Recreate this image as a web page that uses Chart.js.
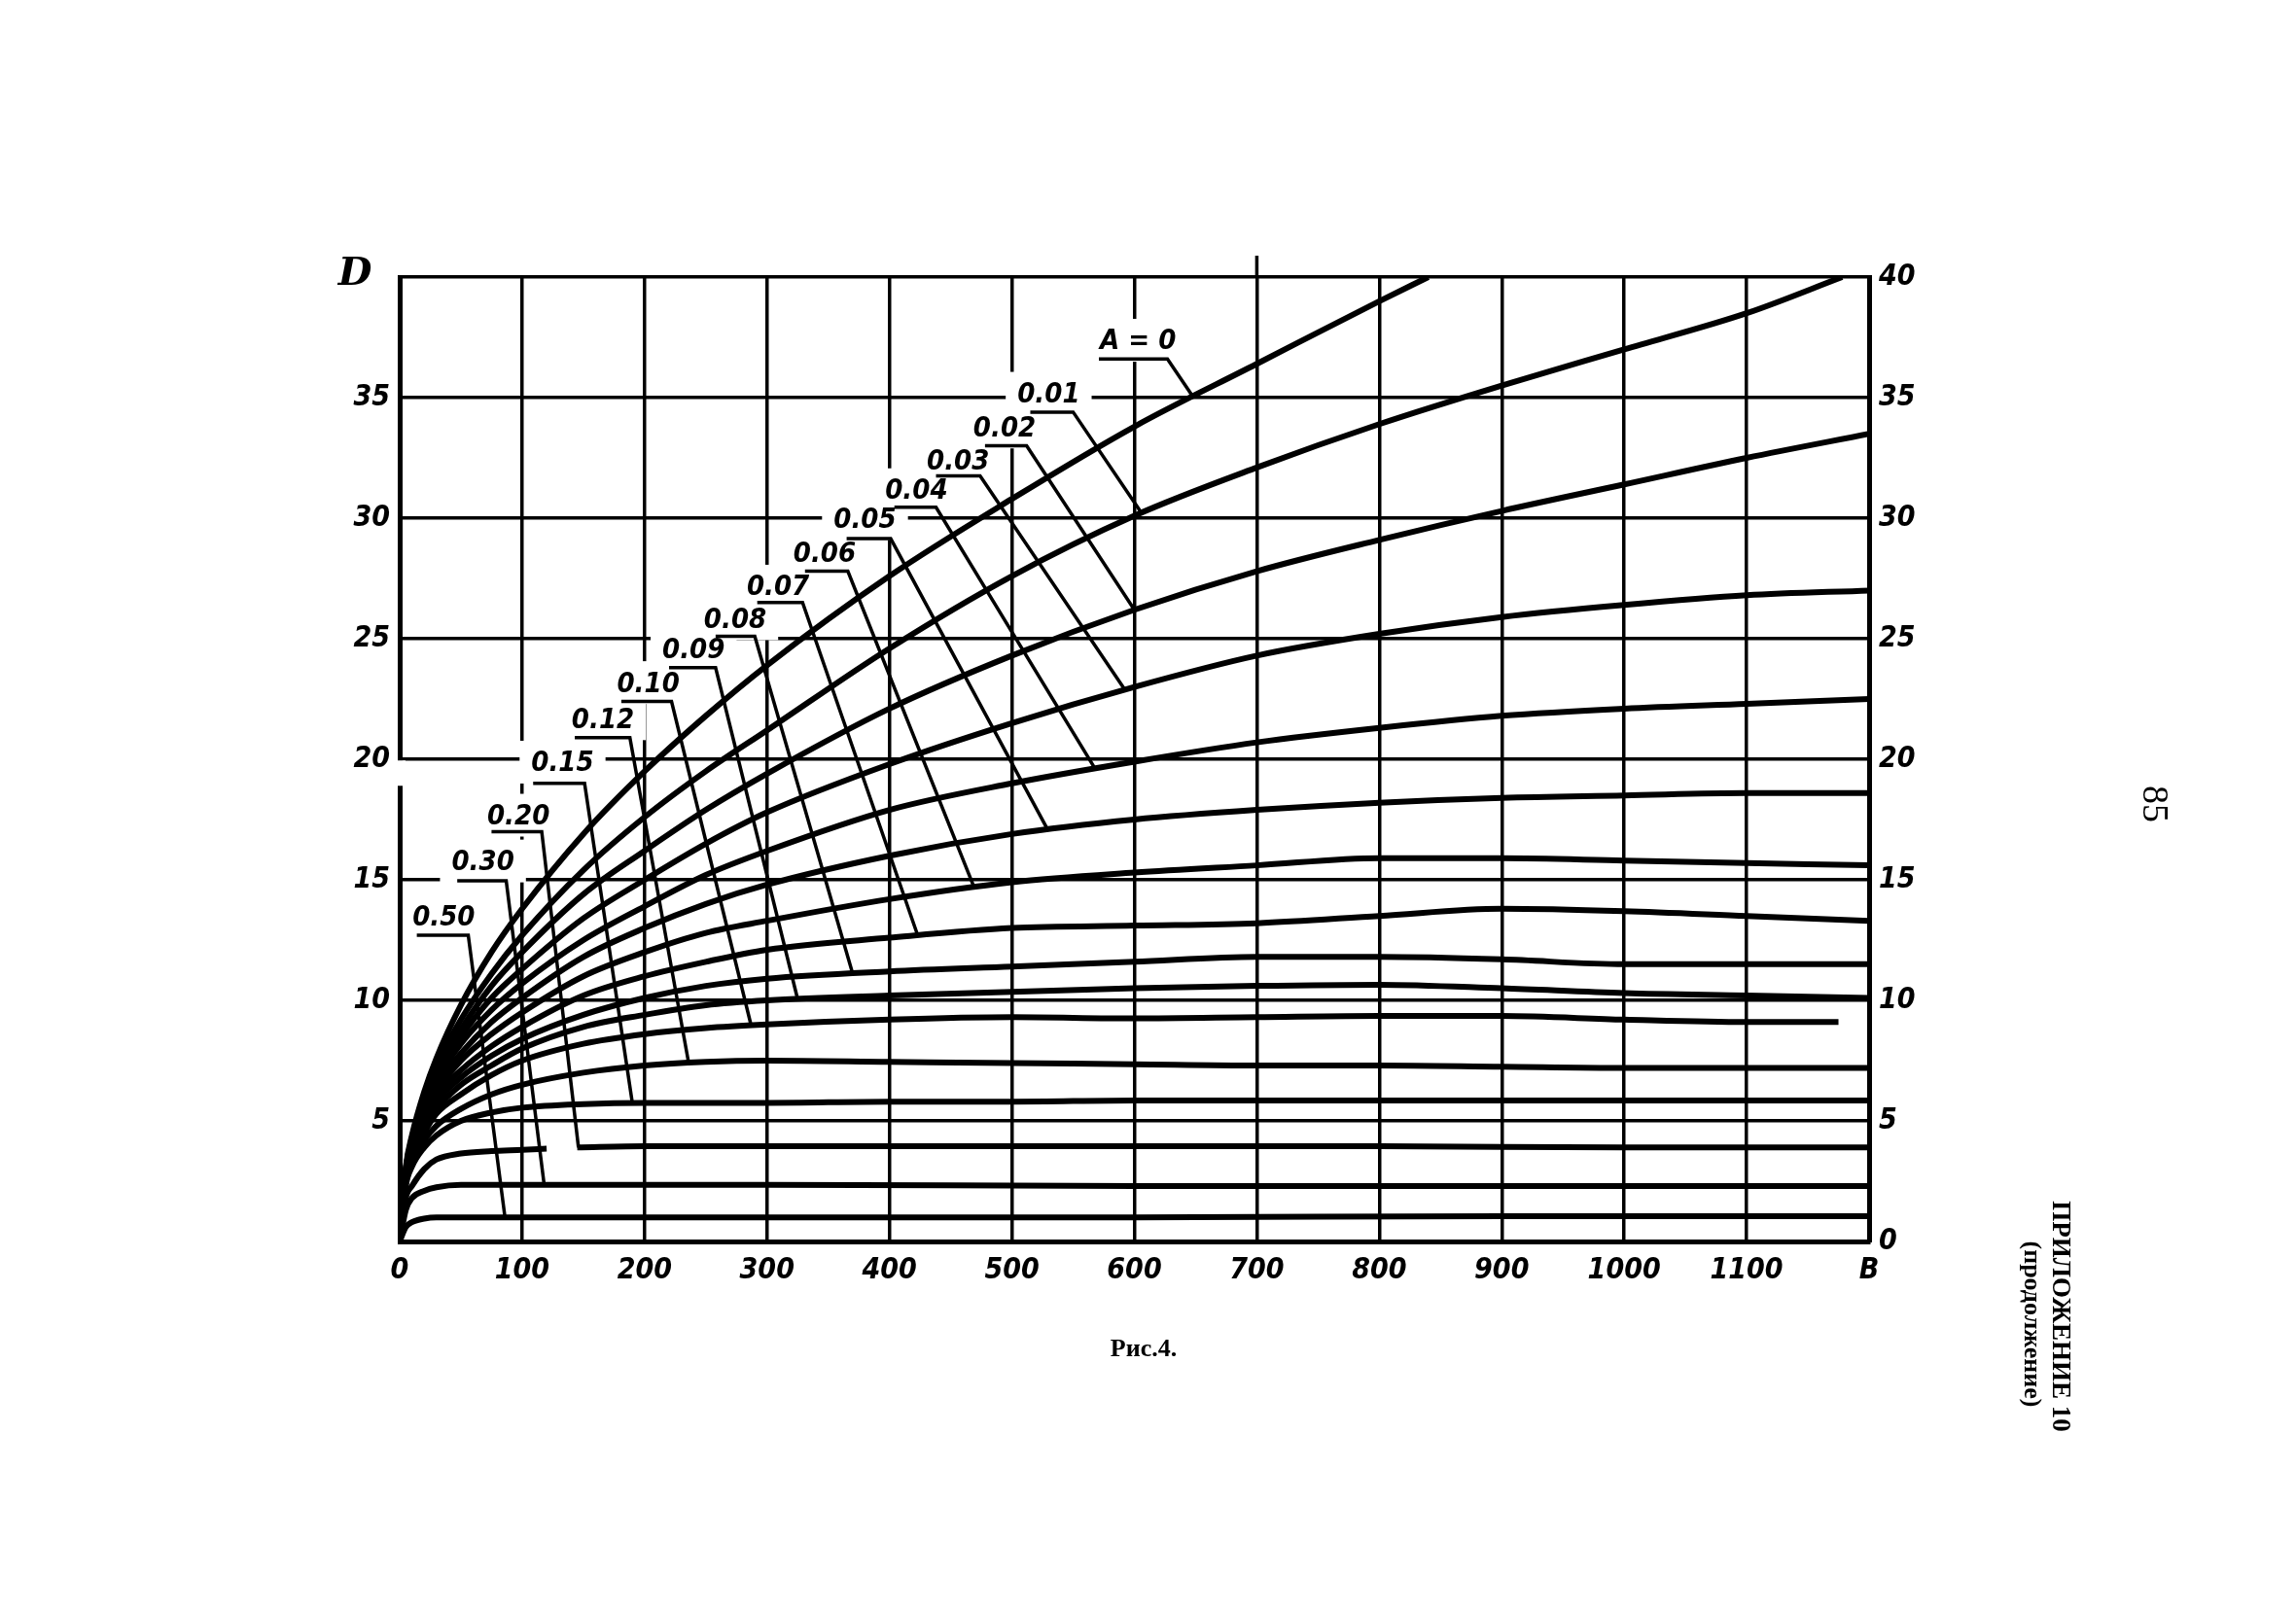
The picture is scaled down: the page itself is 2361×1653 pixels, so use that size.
<!DOCTYPE html>
<html>
<head>
<meta charset="utf-8">
<script src="https://cdn.jsdelivr.net/npm/chart.js@4.4.1/dist/chart.umd.min.js"></script>
<style>
  html, body { margin: 0; padding: 0; background: #fff; }
  #wrap { width: 2361px; height: 1653px; }
</style>
</head>
<body>
<div id="wrap"><canvas id="nomogram" width="2361" height="1653"></canvas></div>
<script>
// D against B, one curve for each value of A  (pairs are [B, D])
const curveA000 = [[0,0],[5,3.1],[10,4.4],[20,6.2],[30,7.6],[50,9.8],[75,12.0],[100,13.8],[150,16.9],[200,19.5],[250,21.8],[300,23.9],[400,27.6],[500,30.8],[600,33.8],[700,36.4],[800,39.0],[840,40]];
const curveA001 = [[0,0],[5,3.0],[10,4.3],[20,6.0],[30,7.3],[50,9.2],[75,11.1],[100,12.7],[150,15.4],[200,17.6],[250,19.5],[300,21.2],[400,24.6],[500,27.6],[600,30.1],[700,32.1],[800,33.9],[900,35.5],[1000,37.0],[1100,38.5],[1178,40]];
const curveA002 = [[0,0],[5,3.0],[10,4.2],[20,5.9],[30,7.1],[50,8.8],[75,10.6],[100,12.0],[150,14.4],[200,16.2],[250,17.9],[300,19.4],[400,22.1],[500,24.3],[600,26.2],[700,27.8],[800,29.1],[900,30.3],[1000,31.4],[1100,32.5],[1200,33.5]];
const curveA003 = [[0,0],[5,2.9],[10,4.1],[20,5.7],[30,6.9],[50,8.5],[75,10.1],[100,11.3],[150,13.4],[200,15.0],[250,16.5],[300,17.8],[400,19.8],[500,21.5],[600,23.0],[700,24.3],[800,25.2],[900,25.9],[1000,26.4],[1100,26.8],[1200,27.0]];
const curveA004 = [[0,0],[5,2.9],[10,4.0],[20,5.6],[30,6.7],[50,8.2],[75,9.6],[100,10.7],[150,12.5],[200,13.9],[250,15.2],[300,16.2],[400,17.9],[500,19.0],[600,19.9],[700,20.7],[800,21.3],[900,21.8],[1000,22.1],[1100,22.3],[1200,22.5]];
const curveA005 = [[0,0],[5,2.8],[10,3.9],[20,5.4],[30,6.5],[50,7.8],[75,9.1],[100,10.1],[150,11.8],[200,13.0],[250,14.0],[300,14.8],[400,16.0],[500,16.9],[600,17.5],[700,17.9],[800,18.2],[900,18.4],[1000,18.5],[1100,18.6],[1200,18.6]];
const curveA006 = [[0,0],[5,2.8],[10,3.8],[20,5.2],[30,6.2],[50,7.5],[75,8.6],[100,9.5],[150,11.0],[200,12.0],[250,12.8],[300,13.3],[400,14.2],[500,14.9],[600,15.3],[700,15.6],[800,15.9],[900,15.9],[1000,15.8],[1100,15.7],[1200,15.6]];
const curveA007 = [[0,0],[5,2.7],[10,3.7],[20,5.0],[30,6.0],[50,7.1],[75,8.1],[100,8.9],[150,10.2],[200,11.0],[250,11.6],[300,12.1],[400,12.6],[500,13.0],[600,13.1],[700,13.2],[800,13.5],[900,13.8],[1000,13.7],[1100,13.5],[1200,13.3]];
const curveA008 = [[0,0],[5,2.7],[10,3.6],[20,4.9],[30,5.8],[50,6.8],[75,7.7],[100,8.4],[150,9.4],[200,10.1],[250,10.6],[300,10.9],[400,11.2],[500,11.4],[600,11.6],[700,11.8],[800,11.8],[900,11.7],[1000,11.5],[1100,11.5],[1200,11.5]];
const curveA009 = [[0,0],[5,2.6],[10,3.5],[20,4.7],[30,5.5],[50,6.5],[75,7.3],[100,8.0],[150,8.9],[200,9.4],[250,9.8],[300,10.0],[400,10.2],[500,10.35],[600,10.5],[700,10.6],[800,10.65],[900,10.5],[1000,10.3],[1100,10.2],[1200,10.1]];
const curveA010 = [[0,0],[5,2.5],[10,3.4],[20,4.5],[30,5.3],[50,6.1],[75,6.9],[100,7.5],[150,8.2],[200,8.6],[250,8.85],[300,9.0],[400,9.2],[500,9.3],[600,9.25],[700,9.3],[800,9.35],[900,9.35],[1000,9.2],[1100,9.1],[1175,9.1]];
const curveA012 = [[0,0],[5,2.4],[10,3.2],[20,4.2],[30,4.8],[50,5.5],[75,6.1],[100,6.5],[150,7.0],[200,7.3],[250,7.45],[300,7.5],[400,7.45],[500,7.4],[600,7.35],[700,7.3],[800,7.3],[900,7.25],[1000,7.2],[1100,7.2],[1200,7.2]];
const curveA015 = [[0,0],[5,2.3],[10,3.1],[20,3.9],[30,4.4],[50,5.0],[75,5.35],[100,5.55],[150,5.7],[200,5.75],[300,5.75],[400,5.8],[500,5.8],[600,5.85],[800,5.85],[1000,5.85],[1200,5.85]];
const curveA020 = [[0,0],[5,1.8],[10,2.3],[20,3.0],[30,3.4],[50,3.65],[75,3.75],[100,3.8],[120,3.85],[132,null],[145,3.9],[200,3.95],[400,3.95],[600,3.95],[800,3.95],[1000,3.9],[1200,3.9]];
const curveA030 = [[0,0],[5,1.3],[10,1.8],[20,2.1],[30,2.25],[50,2.35],[100,2.35],[300,2.35],[600,2.3],[900,2.3],[1200,2.3]];
const curveA050 = [[0,0],[5,0.6],[10,0.8],[20,0.95],[30,1.0],[50,1.0],[300,1.0],[600,1.0],[900,1.05],[1200,1.05]];

// curve labels: text centre, underline and the leader down to the curve
const labelText = ['A = 0', '0.01', '0.02', '0.03', '0.04', '0.05', '0.06', '0.07', '0.08', '0.09', '0.10', '0.12', '0.15', '0.20', '0.30', '0.50'];
const labelB = [603, 530, 494, 456, 422, 380, 347, 309, 274, 240, 203, 166, 133, 97, 68, 36];
const labelD = [37.3, 35.1, 33.7, 32.3, 31.1, 29.9, 28.5, 27.1, 25.75, 24.5, 23.1, 21.6, 19.8, 17.6, 15.7, 13.4];
const underlineFromB = [571, 515, 478, 438, 404, 365, 331, 292, 258, 220, 181, 143, 109, 75, 47, 14];
const underlineToB = [627, 550, 512, 474, 438, 401, 366, 329, 290, 258, 222, 188, 151, 116, 87, 56];
const underlineD = [36.6, 34.4, 33.0, 31.75, 30.45, 29.15, 27.8, 26.5, 25.1, 23.8, 22.4, 20.9, 19.0, 17.0, 14.96, 12.7];
const leaderEndB = [647, 606, 600, 592, 568, 529, 469, 423, 370, 325, 287, 236, 190, 146, 118, 86];
const leaderEndD = [35.1, 30.2, 26.2, 22.9, 19.6, 17.1, 14.7, 12.7, 11.1, 10.05, 8.96, 7.4, 5.75, 3.9, 2.35, 1.0];

const xTickLabels = ['0', '100', '200', '300', '400', '500', '600', '700', '800', '900', '1000', '1100', 'B'];
const leftTickLabels = ['', '5', '10', '15', '20', '25', '30', '35', ''];
const rightTickLabels = ['0', '5', '10', '15', '20', '25', '30', '35', '40'];

const curves = [curveA000, curveA001, curveA002, curveA003, curveA004, curveA005, curveA006, curveA007,
  curveA008, curveA009, curveA010, curveA012, curveA015, curveA020, curveA030, curveA050];

const narrowFamily = "'Liberation Sans Narrow', 'DejaVu Sans Condensed', 'DejaVu Sans', sans-serif";
const tickFont = { family: narrowFamily, style: 'italic', weight: 'bold', size: 30 };
const labelFont = 'italic bold 29px ' + narrowFamily;

document.addEventListener('DOMContentLoaded', () => {
  const datasets = [];
  curves.forEach((c, i) => {
    datasets.push({
      label: labelText[i],
      data: c.map(([b, d]) => ({ x: b, y: d })),
      borderColor: '#000',
      borderWidth: 6,
      pointRadius: 0,
      cubicInterpolationMode: 'monotone',
      spanGaps: false,
      fill: false
    });
  });
  labelText.forEach((t, i) => {
    datasets.push({
      label: 'leader ' + t,
      data: [
        { x: underlineFromB[i], y: underlineD[i] },
        { x: underlineToB[i], y: underlineD[i] },
        { x: leaderEndB[i], y: leaderEndD[i] }
      ],
      borderColor: '#000',
      borderWidth: 3.5,
      pointRadius: 0,
      tension: 0,
      fill: false
    });
  });

  // labels sit on white patches that break the grid, as on the drawing
  const curveLabels = {
    id: 'curveLabels',
    beforeDatasetsDraw(chart) {
      const { ctx, scales: { x, y } } = chart;
      ctx.save();
      ctx.font = labelFont;
      ctx.fillStyle = '#fff';
      labelText.forEach((t, i) => {
        const w = ctx.measureText(t).width;
        const px = x.getPixelForValue(labelB[i]);
        const py = y.getPixelForValue(labelD[i]);
        const left = Math.max(px - w / 2 - 12, x.left + 5);
        ctx.fillRect(left, py - 24, px + w / 2 + 12 - left, 44);
      });
      // break in the left axis below 20
      ctx.fillRect(x.left - 6, y.getPixelForValue(19.95), 12, y.getPixelForValue(18.9) - y.getPixelForValue(19.95));
      ctx.fillStyle = '#000';
      ctx.textAlign = 'center';
      ctx.textBaseline = 'middle';
      labelText.forEach((t, i) => {
        ctx.fillText(t, x.getPixelForValue(labelB[i]), y.getPixelForValue(labelD[i]));
      });
      ctx.restore();
    },
    afterDraw(chart) {
      const { ctx, scales: { x, y } } = chart;
      ctx.save();
      // stub of the 700 line above the frame
      ctx.strokeStyle = '#000';
      ctx.lineWidth = 3.5;
      ctx.beginPath();
      ctx.moveTo(x.getPixelForValue(700), y.getPixelForValue(40));
      ctx.lineTo(x.getPixelForValue(700), y.getPixelForValue(40) - 22);
      ctx.stroke();

      ctx.fillStyle = '#000';
      ctx.textAlign = 'center';
      ctx.textBaseline = 'middle';
      ctx.font = "italic bold 40px 'DejaVu Serif', serif";
      ctx.fillText('D', x.left - 46, y.getPixelForValue(40) - 2);

      ctx.font = "bold 26px 'Liberation Serif', serif";
      ctx.fillText('Рис.4.', 1176, 1388);

      const rotated = [
        ['85', 2214, 827, "38px 'Liberation Serif', serif"],
        ['ПРИЛОЖЕНИЕ 10', 2118, 1354, "bold 27px 'Liberation Serif', serif"],
        ['(продолжение)', 2089, 1362, "bold 26px 'Liberation Serif', serif"]
      ];
      rotated.forEach(([t, cx, cy, f]) => {
        ctx.save();
        ctx.translate(cx, cy);
        ctx.rotate(Math.PI / 2);
        ctx.font = f;
        ctx.fillText(t, 0, 0);
        ctx.restore();
      });
      ctx.restore();
    }
  };

  const canvas = document.getElementById('nomogram');
  new Chart(canvas.getContext('2d'), {
    type: 'line',
    data: { datasets },
    plugins: [curveLabels],
    options: {
      responsive: false,
      animation: false,
      events: [],
      layout: { padding: { top: 285, left: 0, right: 0, bottom: 0 } },
      plugins: { legend: { display: false }, tooltip: { enabled: false } },
      scales: {
        x: {
          type: 'linear', min: 0, max: 1200,
          afterFit: (s) => { s.height = 376; },
          ticks: { stepSize: 100, autoSkip: false, maxRotation: 0, color: '#000', font: tickFont, padding: 12,
            callback: (v, i) => xTickLabels[i] },
          grid: { color: '#000', lineWidth: 3.5, drawTicks: false },
          border: { color: '#000', width: 5 }
        },
        y: {
          position: 'left', min: 0, max: 40,
          afterFit: (s) => { s.width = 411; },
          ticks: { stepSize: 5, color: '#000', font: tickFont, padding: 10,
            callback: (v, i) => leftTickLabels[i] },
          grid: { color: '#000', lineWidth: 3.5, drawTicks: false },
          border: { color: '#000', width: 5 }
        },
        y2: {
          position: 'right', min: 0, max: 40,
          afterFit: (s) => { s.width = 439; },
          ticks: { stepSize: 5, color: '#000', font: tickFont, padding: 10,
            callback: (v, i) => rightTickLabels[i] },
          grid: { drawOnChartArea: false, drawTicks: false },
          border: { color: '#000', width: 5 }
        }
      }
    }
  });
});
</script>
</body>
</html>
